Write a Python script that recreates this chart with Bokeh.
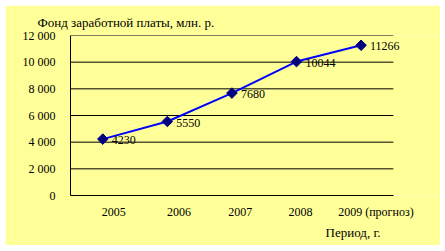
from bokeh.plotting import figure
from bokeh.models import ColumnDataSource, FixedTicker, Title, LabelSet
from bokeh.embed import file_html
from bokeh.resources import INLINE
import math

periods = ["2005", "2006", "2007", "2008", "2009 (прогноз)"]
fund = [4230, 5550, 7680, 10044, 11266]
fund_labels = ["4230", "5550", "7680", "10044", "11266"]
y_ticks = [0, 2000, 4000, 6000, 8000, 10000, 12000]
y_tick_labels = ["0", "2 000", "4 000", "6 000", "8 000", "10 000", "12 000"]
title_text = "Фонд заработной платы, млн. р."
x_title_text = "Период, г."

FONT = "Liberation Serif"
BG = "#FFFF99"

n = len(periods)
xs = list(range(n))
src = ColumnDataSource(dict(x=xs, y=fund, lab=fund_labels))

# plot frame is widened to the right so data labels are not clipped;
# axis and grid are bounded to the category span
x_lo, x_hi = -0.5, n - 0.5
extra = 0.73  # extra room (in category units) to the right of the last category
p = figure(width=435, height=240, output_backend="svg", toolbar_location=None,
           x_range=(x_lo, x_hi + extra), y_range=(0, 12000),
           min_border_left=65, min_border_right=0, min_border_top=30, min_border_bottom=50)
p.margin = (5, 5, 6, 5)
p.background_fill_color = BG
p.border_fill_color = BG
p.outline_line_color = None

# horizontal grid lines
p.segment(x0=[x_lo] * len(y_ticks), x1=[x_hi] * len(y_ticks), y0=y_ticks, y1=y_ticks,
          line_color="#000000", line_width=1)

p.line("x", "y", source=src, line_color="#0000FF", line_width=2)
p.scatter("x", "y", source=src, marker="square", angle=math.pi / 4, size=7.5,
          fill_color="#000080", line_color="#000080")
p.add_layout(LabelSet(x="x", y="y", text="lab", source=src, x_offset=9, y_offset=-1,
                      text_baseline="middle", text_align="left",
                      text_font=FONT, text_font_size="12px", text_color="#000000"))

# axes
label_shift = [0.17, 0.18, 0.13, 0.06, 0.23]
xt = [i + s for i, s in zip(xs, label_shift)]
p.xaxis.ticker = FixedTicker(ticks=xt)
p.xaxis.major_label_overrides = {t: lab for t, lab in zip(xt, periods)}
p.xaxis.bounds = (x_lo, x_hi)
p.yaxis.ticker = FixedTicker(ticks=y_ticks)
p.yaxis.major_label_overrides = {t: lab for t, lab in zip(y_ticks, y_tick_labels)}
for ax in (p.xaxis, p.yaxis):
    ax.major_tick_line_color = None
    ax.minor_tick_line_color = None
    ax.axis_line_color = "#000000"
    ax.axis_line_width = 1
    ax.major_label_text_font = FONT
    ax.major_label_text_font_size = "12px"
    ax.major_label_text_color = "#000000"
p.yaxis.major_label_standoff = 9
p.xaxis.major_label_standoff = 3

p.xgrid.grid_line_color = None
p.ygrid.grid_line_color = None

p.add_layout(Title(text=title_text, align="left", offset=-33, standoff=11, text_font=FONT,
                   text_font_size="13px", text_font_style="normal",
                   text_color="#000000"), "above")
p.add_layout(Title(text=x_title_text, align="right", offset=60, standoff=2, text_font=FONT,
                   text_font_size="13px", text_font_style="normal",
                   text_color="#000000"), "below")

open("out.html", "w").write(file_html(p, INLINE))
